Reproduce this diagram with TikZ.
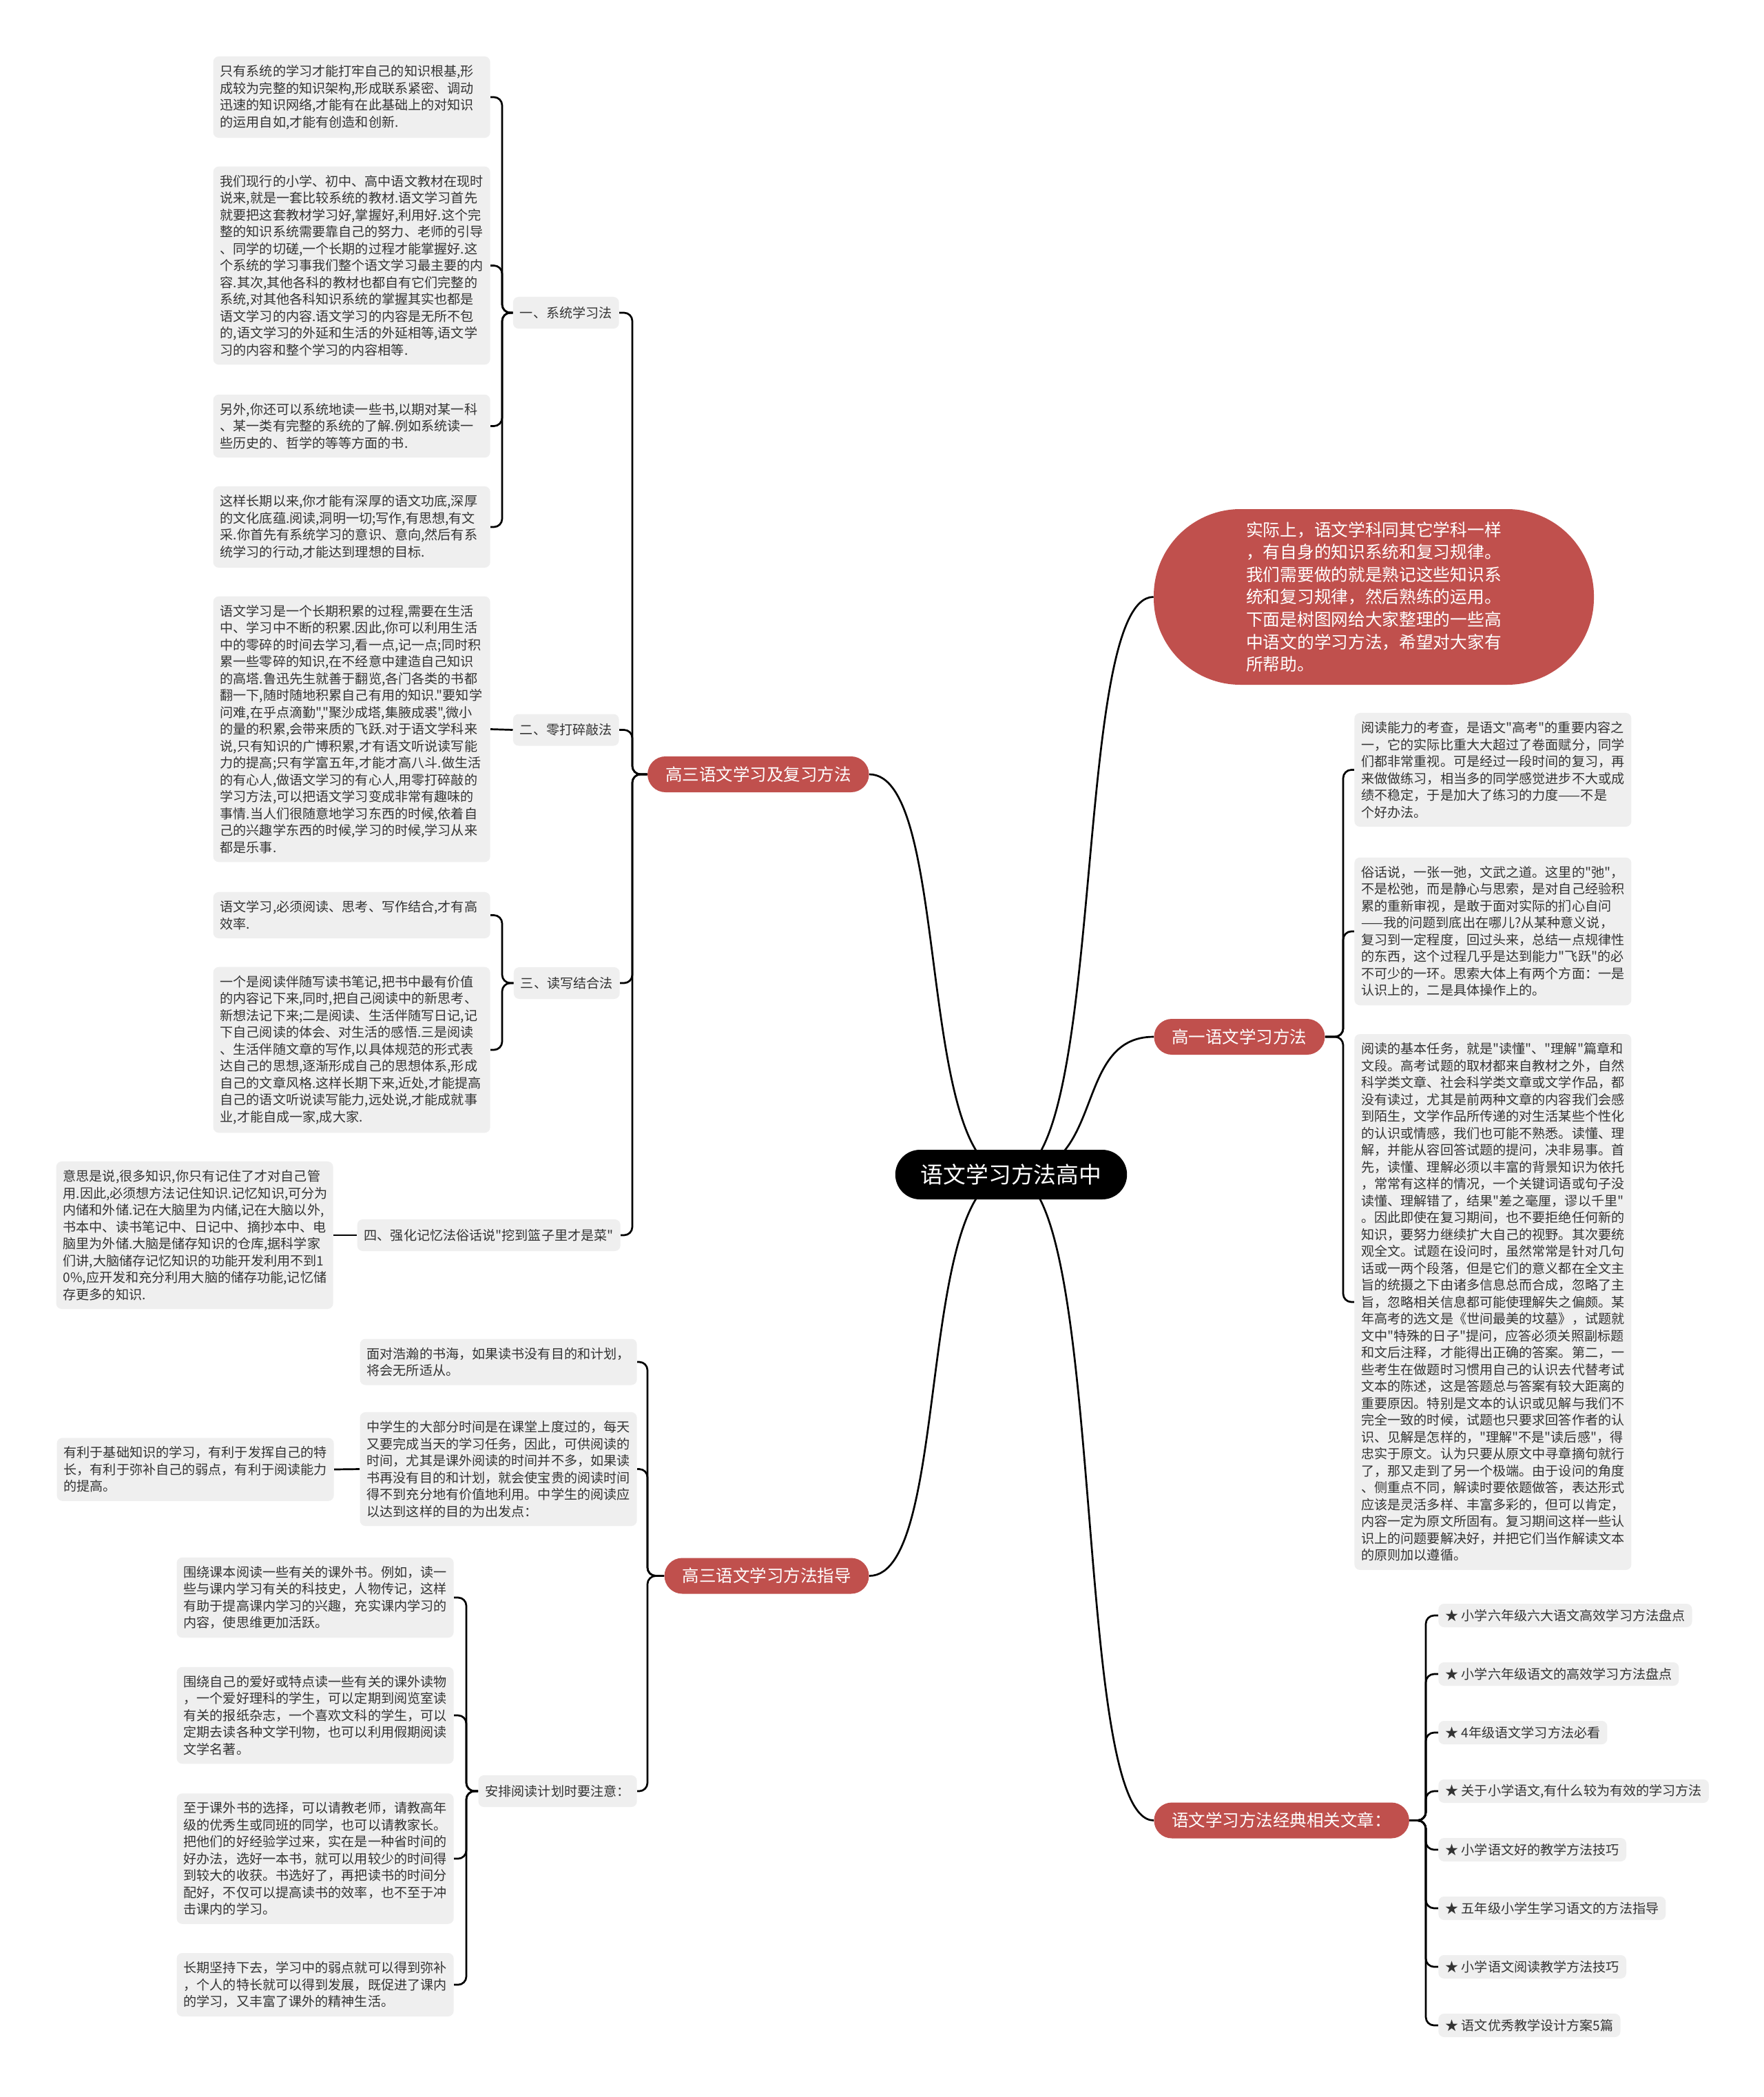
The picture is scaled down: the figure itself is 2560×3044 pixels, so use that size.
\documentclass[tikz,border=0pt]{standalone}
\usepackage{fontspec}
\setmainfont{Noto Sans CJK SC}[Ligatures=TeXOff]
\usetikzlibrary{backgrounds}
\definecolor{nodered}{RGB}{192,80,77}
\definecolor{boxgray}{RGB}{239,239,239}
\definecolor{txtgray}{RGB}{51,51,51}
\tikzset{
  tbox/.style={fill=boxgray, rounded corners=4pt, text width=191pt, align=left,
    inner xsep=5pt, inner ysep=6.2pt, font=\fontsize{9.55}{12.25}\selectfont, text=txtgray},
  lbox/.style={fill=boxgray, rounded corners=4pt, inner xsep=5pt, inner ysep=2pt,
    minimum height=23pt, font=\fontsize{9.55}{12.25}\selectfont, text=txtgray},
  ibox/.style={fill=boxgray, rounded corners=4pt, inner xsep=5pt, inner ysep=1pt,
    minimum height=17pt, font=\fontsize{9.55}{12.25}\selectfont, text=txtgray},
  rnode/.style={fill=nodered, text=white, rounded corners=13pt, inner xsep=13pt,
    inner ysep=2pt, minimum height=26pt, font=\fontsize{12.25}{14}\selectfont},
  cnode/.style={fill=black, text=white, rounded corners=18pt, inner xsep=18.5pt,
    inner ysep=2pt, minimum height=36pt, font=\fontsize{16.4}{18}\selectfont},
  conn/.style={draw=black, line width=1.35pt, rounded corners=6pt},
  curv/.style={draw=black, line width=1.35pt},
}
\begin{document}
\begin{tikzpicture}[x=0.5pt,y=-0.5pt]
\useasboundingbox (0,0) rectangle (2560,3044);

% ---------- centre ----------
\node[cnode] (C) at (1468,1705) {语文学习方法高中};

% ---------- main branches ----------
\node[rnode, rounded corners=63pt, minimum width=319.5pt, minimum height=127.5pt,
  align=left, inner xsep=8pt, font=\fontsize{12.35}{16.3}\selectfont] (intro) at (1994.5,866.5)
  {实际上，语文学科同其它学科一样\\，有自身的知识系统和复习规律。\\我们需要做的就是熟记这些知识系\\统和复习规律，然后熟练的运用。\\下面是树图网给大家整理的一些高\\中语文的学习方法，希望对大家有\\所帮助。};
\node[rnode, anchor=west] (G1) at (1675,1505) {高一语文学习方法};
\node[rnode, anchor=west] (G4) at (1675,2642.5) {语文学习方法经典相关文章：};
\node[rnode, anchor=east] (G3a) at (1262,1124) {高三语文学习及复习方法};
\node[rnode, anchor=east] (G3b) at (1262,2287.5) {高三语文学习方法指导};

% ---------- left: 高三语文学习及复习方法 ----------
\node[lbox, anchor=east] (L1) at (899,454) {一、系统学习法};
\node[lbox, anchor=east] (L2) at (899,1059.5) {二、零打碎敲法};
\node[lbox, anchor=east] (L3) at (900,1427) {三、读写结合法};
\node[lbox, anchor=east] (L4) at (901,1793) {四、强化记忆法俗话说"挖到篮子里才是菜"};

\node[tbox, anchor=east] (S1) at (712,141) {只有系统的学习才能打牢自己的知识根基,形\\成较为完整的知识架构,形成联系紧密、调动\\迅速的知识网络,才能有在此基础上的对知识\\的运用自如,才能有创造和创新.};
\node[tbox, anchor=east] (S2) at (712,385.5) {我们现行的小学、初中、高中语文教材在现时\\说来,就是一套比较系统的教材.语文学习首先\\就要把这套教材学习好,掌握好,利用好.这个完\\整的知识系统需要靠自己的努力、老师的引导\\、同学的切磋,一个长期的过程才能掌握好.这\\个系统的学习事我们整个语文学习最主要的内\\容.其次,其他各科的教材也都自有它们完整的\\系统,对其他各科知识系统的掌握其实也都是\\语文学习的内容.语文学习的内容是无所不包\\的,语文学习的外延和生活的外延相等,语文学\\习的内容和整个学习的内容相等.};
\node[tbox, anchor=east] (S3) at (712,618.5) {另外,你还可以系统地读一些书,以期对某一科\\、某一类有完整的系统的了解.例如系统读一\\些历史的、哲学的等等方面的书.};
\node[tbox, anchor=east] (S4) at (712,765) {这样长期以来,你才能有深厚的语文功底,深厚\\的文化底蕴.阅读,洞明一切;写作,有思想,有文\\采.你首先有系统学习的意识、意向,然后有系\\统学习的行动,才能达到理想的目标.};

\node[tbox, anchor=east] (Z) at (712,1058.5) {语文学习是一个长期积累的过程,需要在生活\\中、学习中不断的积累.因此,你可以利用生活\\中的零碎的时间去学习,看一点,记一点;同时积\\累一些零碎的知识,在不经意中建造自己知识\\的高塔.鲁迅先生就善于翻览,各门各类的书都\\翻一下,随时随地积累自己有用的知识."要知学\\问难,在乎点滴勤","聚沙成塔,集腋成裘",微小\\的量的积累,会带来质的飞跃.对于语文学科来\\说,只有知识的广博积累,才有语文听说读写能\\力的提高;只有学富五年,才能才高八斗.做生活\\的有心人,做语文学习的有心人,用零打碎敲的\\学习方法,可以把语文学习变成非常有趣味的\\事情.当人们很随意地学习东西的时候,依着自\\己的兴趣学东西的时候,学习的时候,学习从来\\都是乐事.};

\node[tbox, anchor=east] (R1) at (712,1328.5) {语文学习,必须阅读、思考、写作结合,才有高\\效率.};
\node[tbox, anchor=east] (R2) at (712,1524) {一个是阅读伴随写读书笔记,把书中最有价值\\的内容记下来,同时,把自己阅读中的新思考、\\新想法记下来;二是阅读、生活伴随写日记,记\\下自己阅读的体会、对生活的感悟.三是阅读\\、生活伴随文章的写作,以具体规范的形式表\\达自己的思想,逐渐形成自己的思想体系,形成\\自己的文章风格.这样长期下来,近处,才能提高\\自己的语文听说读写能力,远处说,才能成就事\\业,才能自成一家,成大家.};

\node[tbox, anchor=east] (M) at (484,1793) {意思是说,很多知识,你只有记住了才对自己管\\用.因此,必须想方法记住知识.记忆知识,可分为\\内储和外储.记在大脑里为内储,记在大脑以外,\\书本中、读书笔记中、日记中、摘抄本中、电\\脑里为外储.大脑是储存知识的仓库,据科学家\\们讲,大脑储存记忆知识的功能开发利用不到1\\0\%,应开发和充分利用大脑的储存功能,记忆储\\存更多的知识.};

% ---------- left: 高三语文学习方法指导 ----------
\node[tbox, anchor=east] (A) at (925,1977) {面对浩瀚的书海，如果读书没有目的和计划，\\将会无所适从。};
\node[tbox, anchor=east] (B) at (925,2132.5) {中学生的大部分时间是在课堂上度过的，每天\\又要完成当天的学习任务，因此，可供阅读的\\时间，尤其是课外阅读的时间并不多，如果读\\书再没有目的和计划，就会使宝贵的阅读时间\\得不到充分地有价值地利用。中学生的阅读应\\以达到这样的目的为出发点：};
\node[tbox, anchor=east] (Cx) at (485,2133) {有利于基础知识的学习，有利于发挥自己的特\\长，有利于弥补自己的弱点，有利于阅读能力\\的提高。};
\node[lbox, anchor=east] (L5) at (925,2600) {安排阅读计划时要注意：};
\node[tbox, anchor=east] (P1) at (659,2319) {围绕课本阅读一些有关的课外书。例如，读一\\些与课内学习有关的科技史，人物传记，这样\\有助于提高课内学习的兴趣，充实课内学习的\\内容，使思维更加活跃。};
\node[tbox, anchor=east] (P2) at (659,2490) {围绕自己的爱好或特点读一些有关的课外读物\\，一个爱好理科的学生，可以定期到阅览室读\\有关的报纸杂志，一个喜欢文科的学生，可以\\定期去读各种文学刊物，也可以利用假期阅读\\文学名著。};
\node[tbox, anchor=east] (P3) at (659,2698) {至于课外书的选择，可以请教老师，请教高年\\级的优秀生或同班的同学，也可以请教家长。\\把他们的好经验学过来，实在是一种省时间的\\好办法，选好一本书，就可以用较少的时间得\\到较大的收获。书选好了，再把读书的时间分\\配好，不仅可以提高读书的效率，也不至于冲\\击课内的学习。};
\node[tbox, anchor=east] (P4) at (659,2881) {长期坚持下去，学习中的弱点就可以得到弥补\\，个人的特长就可以得到发展，既促进了课内\\的学习，又丰富了课外的精神生活。};

% ---------- right: 高一语文学习方法 ----------
\node[tbox, anchor=west] (Q1) at (1966,1117.5) {阅读能力的考查，是语文"高考"的重要内容之\\一，它的实际比重大大超过了卷面赋分，同学\\们都非常重视。可是经过一段时间的复习，再\\来做做练习，相当多的同学感觉进步不大或成\\绩不稳定，于是加大了练习的力度——不是\\个好办法。};
\node[tbox, anchor=west] (Q2) at (1966,1352) {俗话说，一张一弛，文武之道。这里的"弛"，\\不是松弛，而是静心与思索，是对自己经验积\\累的重新审视，是敢于面对实际的扪心自问\\——我的问题到底出在哪儿?从某种意义说，\\复习到一定程度，回过头来，总结一点规律性\\的东西，这个过程几乎是达到能力"飞跃"的必\\不可少的一环。思索大体上有两个方面：一是\\认识上的，二是具体操作上的。};
\node[tbox, anchor=west] (Q3) at (1966,1890) {阅读的基本任务，就是"读懂"、"理解"篇章和\\文段。高考试题的取材都来自教材之外，自然\\科学类文章、社会科学类文章或文学作品，都\\没有读过，尤其是前两种文章的内容我们会感\\到陌生，文学作品所传递的对生活某些个性化\\的认识或情感，我们也可能不熟悉。读懂、理\\解，并能从容回答试题的提问，决非易事。首\\先，读懂、理解必须以丰富的背景知识为依托\\，常常有这样的情况，一个关键词语或句子没\\读懂、理解错了，结果"差之毫厘，谬以千里"\\。因此即使在复习期间，也不要拒绝任何新的\\知识，要努力继续扩大自己的视野。其次要统\\观全文。试题在设问时，虽然常常是针对几句\\话或一两个段落，但是它们的意义都在全文主\\旨的统摄之下由诸多信息总而合成，忽略了主\\旨，忽略相关信息都可能使理解失之偏颇。某\\年高考的选文是《世间最美的坟墓》，试题就\\文中"特殊的日子"提问，应答必须关照副标题\\和文后注释，才能得出正确的答案。第二，一\\些考生在做题时习惯用自己的认识去代替考试\\文本的陈述，这是答题总与答案有较大距离的\\重要原因。特别是文本的认识或见解与我们不\\完全一致的时候，试题也只要求回答作者的认\\识、见解是怎样的，"理解"不是"读后感"，得\\忠实于原文。认为只要从原文中寻章摘句就行\\了，那又走到了另一个极端。由于设问的角度\\、侧重点不同，解读时要依题做答，表达形式\\应该是灵活多样、丰富多彩的，但可以肯定，\\内容一定为原文所固有。复习期间这样一些认\\识上的问题要解决好，并把它们当作解读文本\\的原则加以遵循。};

% ---------- right: 经典相关文章 ----------
\node[ibox, anchor=west] (I1) at (2088,2345) {★ 小学六年级六大语文高效学习方法盘点};
\node[ibox, anchor=west] (I2) at (2088,2430) {★ 小学六年级语文的高效学习方法盘点};
\node[ibox, anchor=west] (I3) at (2088,2515) {★ 4年级语文学习方法必看};
\node[ibox, anchor=west] (I4) at (2088,2600) {★ 关于小学语文,有什么较为有效的学习方法};
\node[ibox, anchor=west] (I5) at (2088,2685) {★ 小学语文好的教学方法技巧};
\node[ibox, anchor=west] (I6) at (2088,2770) {★ 五年级小学生学习语文的方法指导};
\node[ibox, anchor=west] (I7) at (2088,2855) {★ 小学语文阅读教学方法技巧};
\node[ibox, anchor=west] (I8) at (2088,2940) {★ 语文优秀教学设计方案5篇};

% ---------- bracket x positions ----------
\coordinate (xa) at (918,0);
\coordinate (xb) at (729,0);
\coordinate (xc) at (940,0);
\coordinate (xd) at (677,0);
\coordinate (xe) at (1950,0);
\coordinate (xf) at (2070,0);

\begin{scope}[on background layer]
\fill[white] (0,0) rectangle (2560,3044);
% centre curves
\draw[curv] (C.center) .. controls +(140,0) and +(-120,0) .. (intro.west);
\draw[curv] (C.center) .. controls +(140,0) and +(-120,0) .. (G1.west);
\draw[curv] (C.center) .. controls +(140,0) and +(-120,0) .. (G4.west);
\draw[curv] (C.center) .. controls +(-140,0) and +(120,0) .. (G3a.east);
\draw[curv] (C.center) .. controls +(-140,0) and +(120,0) .. (G3b.east);
% 高三语文学习及复习方法
\foreach \t in {L1,L2,L3,L4}
  \draw[conn] (G3a.west) -- (xa |- G3a.west) |- (\t.east);
\foreach \t in {S1,S2,S3,S4}
  \draw[conn] (L1.west) -- (xb |- L1.west) |- (\t.east);
\draw[conn] (L2.west) -- (Z.east);
\foreach \t in {R1,R2}
  \draw[conn] (L3.west) -- (xb |- L3.west) |- (\t.east);
\draw[conn] (L4.west) -- (M.east);
% 高三语文学习方法指导
\foreach \t in {A,B,L5}
  \draw[conn] (G3b.west) -- (xc |- G3b.west) |- (\t.east);
\draw[conn] (B.west) -- (Cx.east);
\foreach \t in {P1,P2,P3,P4}
  \draw[conn] (L5.west) -- (xd |- L5.west) |- (\t.east);
% 高一语文学习方法
\foreach \t in {Q1,Q2,Q3}
  \draw[conn] (G1.east) -- (xe |- G1.east) |- (\t.west);
% 经典相关文章
\foreach \t in {I1,I2,I3,I4,I5,I6,I7,I8}
  \draw[conn] (G4.east) -- (xf |- G4.east) |- (\t.west);
\end{scope}
\end{tikzpicture}
\end{document}
